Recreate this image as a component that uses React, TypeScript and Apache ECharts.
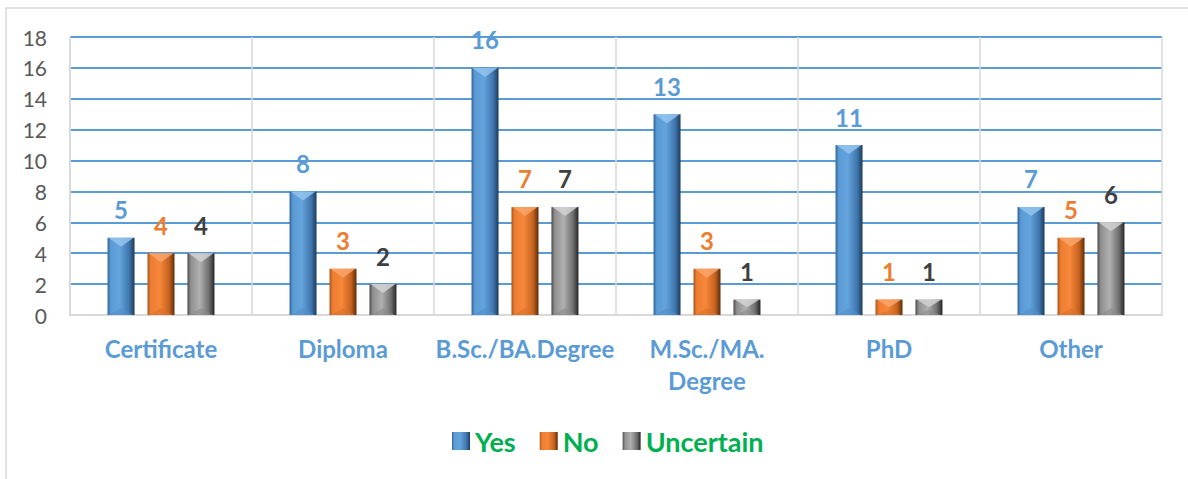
import React, { useEffect, useRef } from "react";
import * as echarts from "echarts";

const categories = ["Certificate", "Diploma", "B.Sc./BA.Degree", "M.Sc./MA.\nDegree", "PhD", "Other"];
const yesValues = [5, 8, 16, 13, 11, 7];
const noValues = [4, 3, 7, 3, 1, 5];
const uncertainValues = [4, 2, 7, 1, 1, 6];
const seriesNames = ["Yes", "No", "Uncertain"];
const yTicks = { min: 0, max: 18, interval: 2 };

const FONT = "Lato, 'Open Sans', sans-serif";
const BAR_W = 27;
const BAR_STEP = 40;

const grad = (stops: [number, string][]) =>
  new echarts.graphic.LinearGradient(0, 0, 1, 0, stops.map(([offset, color]) => ({ offset, color })));

const blueFill = grad([
  [0, "#2f6398"],
  [0.12, "#5b9bd5"],
  [0.45, "#64a3dc"],
  [0.8, "#3f76ad"],
  [1, "#1d3b5c"],
]);
const orangeFill = grad([
  [0, "#a9561c"],
  [0.12, "#ed7d31"],
  [0.45, "#f7883a"],
  [0.8, "#c4621f"],
  [1, "#5e2c08"],
]);
const grayFill = grad([
  [0, "#4a4a4a"],
  [0.12, "#8f8f8f"],
  [0.45, "#b0b0b0"],
  [0.8, "#6e6e6e"],
  [1, "#262626"],
]);

const bevelColors = ["#93c4ee", "#f9a56b", "#d2d2d2"];
const bottomColors = ["#4f8fcb", "#d96f28", "#8a8a8a"];

export default function App() {
  const ref = useRef<HTMLDivElement>(null);
  useEffect(() => {
    if (!ref.current) return;
    const chart = echarts.init(ref.current, undefined, { renderer: "svg" });
    const mk = (name: string, data: number[], fill: any, labelColor: string) => ({
      name,
      type: "bar",
      data,
      barWidth: BAR_W,
      barGap: "48%",
      itemStyle: { color: fill },
      label: {
        show: true,
        position: "top",
        distance: 16,
        color: labelColor,
        fontFamily: FONT,
        fontWeight: "bold",
        fontSize: 24,
      },
    });
    const bevel = (idx: number, data: number[]) => ({
      type: "custom",
      name: "bevel" + idx,
      silent: true,
      z: 5,
      data: data.map((v, i) => [i, v]),
      renderItem: (params: any, api: any) => {
        const cat = api.value(0);
        const val = api.value(1);
        const top = api.coord([cat, val]);
        const base = api.coord([cat, 0]);
        const xc = top[0] + (idx - 1) * BAR_STEP;
        const half = BAR_W / 2;
        const h = base[1] - top[1];
        const d = Math.min(9, h / 2);
        const db = Math.min(7, h / 3);
        return {
          type: "group",
          children: [
            {
              type: "polygon",
              shape: {
                points: [
                  [xc - half + 1, top[1]],
                  [xc + half - 1, top[1]],
                  [xc, top[1] + d],
                ],
              },
              style: { fill: bevelColors[idx], opacity: 0.85 },
            },
            {
              type: "polygon",
              shape: {
                points: [
                  [xc - half + 2, base[1]],
                  [xc + half - 2, base[1]],
                  [xc, base[1] - db],
                ],
              },
              style: { fill: bottomColors[idx], opacity: 0.6 },
            },
          ],
        };
      },
    });
    chart.setOption({
      animation: false,
      backgroundColor: "#ffffff",
      graphic: [
        {
          type: "rect",
          shape: { x: 6, y: 8, width: 1300, height: 600 },
          style: { fill: "none", stroke: "#d9d9d9", lineWidth: 1.5 },
          silent: true,
          z: -10,
        },
      ],
      grid: { left: 70, right: 26, top: 37, bottom: 164, containLabel: false },
      legend: {
        data: seriesNames,
        left: 447,
        top: 422,
        icon: "rect",
        itemWidth: 18,
        itemHeight: 18,
        itemGap: 24,
        textStyle: {
          color: "#00b050",
          fontFamily: FONT,
          fontWeight: "bold",
          fontSize: 27,
          lineHeight: 28,
        },
      },
      xAxis: {
        type: "category",
        data: categories,
        axisLine: { show: true, lineStyle: { color: "#d9d9d9", width: 2 } },
        axisTick: { show: false },
        splitLine: { show: true, lineStyle: { color: "#d9d9d9", width: 1.5 } },
        axisLabel: {
          color: "#5b9bd5",
          fontFamily: FONT,
          fontWeight: "bold",
          fontSize: 24,
          lineHeight: 32,
          margin: 17,
          interval: 0,
        },
      },
      yAxis: {
        type: "value",
        min: yTicks.min,
        max: yTicks.max,
        interval: yTicks.interval,
        axisLine: { show: true, lineStyle: { color: "#d9d9d9", width: 1.5 } },
        axisTick: { show: false },
        splitLine: { show: true, lineStyle: { color: "#5b9bd5", width: 2 } },
        axisLabel: {
          color: "#595959",
          fontFamily: FONT,
          fontSize: 21,
          margin: 23,
        },
      },
      series: [
        mk(seriesNames[0], yesValues, blueFill, "#5b9bd5"),
        mk(seriesNames[1], noValues, orangeFill, "#ed7d31"),
        mk(seriesNames[2], uncertainValues, grayFill, "#404040"),
        bevel(0, yesValues),
        bevel(1, noValues),
        bevel(2, uncertainValues),
      ],
    });
    return () => chart.dispose();
  }, []);
  return (
    <div
      ref={ref}
      style={{ position: "fixed", left: 0, top: 0, width: 1188, height: 479 }}
    />
  );
}
